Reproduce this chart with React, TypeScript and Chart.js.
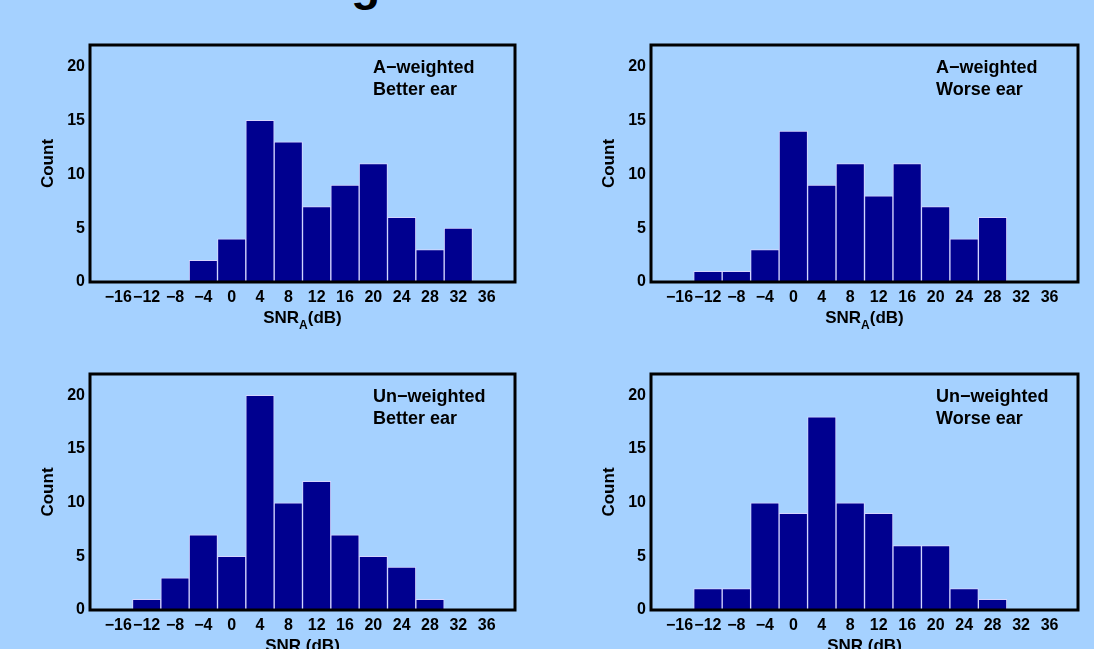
import React, { useEffect, useRef } from "react";
import { Chart, registerables } from "chart.js";

Chart.register(...registerables);

// Bin centres (dB); the outer two are empty padding bins of the axis range
const binCenters = [-20, -16, -12, -8, -4, 0, 4, 8, 12, 16, 20, 24, 28, 32, 36, 40];
const shownTicks = [-16, -12, -8, -4, 0, 4, 8, 12, 16, 20, 24, 28, 32, 36];
const yTicks = [0, 5, 10, 15, 20];

// Counts for bins centred at -16 ... 36
const aWeightedBetter = [0, 0, 0, 2, 4, 15, 13, 7, 9, 11, 6, 3, 5, 0];
const aWeightedWorse = [0, 1, 1, 3, 14, 9, 11, 8, 11, 7, 4, 6, 0, 0];
const unWeightedBetter = [0, 1, 3, 7, 5, 20, 10, 12, 7, 5, 4, 1, 0, 0];
const unWeightedWorse = [0, 2, 2, 10, 9, 18, 10, 9, 6, 6, 2, 1, 0, 0];

const FONT = '"Liberation Sans", Arial, Helvetica, sans-serif';

type PanelProps = {
  left: number;
  top: number;
  width: number;
  height: number;
  padTop: number;
  padRight: number;
  yAxisWidth: number;
  xAxisHeight: number;
  counts: number[];
  line1: string;
  line2: string;
  subA: boolean;
};

const frame = {
  id: "frame",
  afterDraw(chart: any, _args: any, opts: any) {
    const { ctx, chartArea } = chart;
    const { left, top, right, bottom } = chartArea;
    ctx.save();
    ctx.strokeStyle = "#000";
    ctx.lineWidth = 3;
    ctx.strokeRect(left, top, right - left, bottom - top);

    ctx.fillStyle = "#000";
    ctx.textBaseline = "alphabetic";
    ctx.textAlign = "left";
    ctx.font = `bold 18px ${FONT}`;
    ctx.fillText(opts.line1, right - 142, top + 28);
    ctx.fillText(opts.line2, right - 142, top + 50);

    // x title
    const cx = (left + right) / 2;
    const by = bottom + 41;
    ctx.font = `bold 17px ${FONT}`;
    if (opts.subA) {
      const w1 = ctx.measureText("SNR").width;
      const w3 = ctx.measureText("(dB)").width;
      ctx.font = `bold 12px ${FONT}`;
      const w2 = ctx.measureText("A").width;
      const total = w1 + w2 + w3;
      let x = cx - total / 2;
      ctx.font = `bold 17px ${FONT}`;
      ctx.fillText("SNR", x, by);
      x += w1;
      ctx.font = `bold 12px ${FONT}`;
      ctx.fillText("A", x, by + 6);
      x += w2;
      ctx.font = `bold 17px ${FONT}`;
      ctx.fillText("(dB)", x, by);
    } else {
      ctx.textAlign = "center";
      ctx.fillText("SNR (dB)", cx, by);
    }

    // y title
    ctx.translate(left - 42, (top + bottom) / 2);
    ctx.rotate(-Math.PI / 2);
    ctx.textAlign = "center";
    ctx.textBaseline = "middle";
    ctx.font = `bold 17px ${FONT}`;
    ctx.fillText("Count", 0, 0);
    ctx.restore();
  },
};

function Panel(p: PanelProps) {
  const ref = useRef<HTMLCanvasElement>(null);
  useEffect(() => {
    if (!ref.current) return;
    const values = [null, ...p.counts, null];
    const chart = new Chart(ref.current, {
      type: "bar",
      data: {
        labels: binCenters.map(String),
        datasets: [
          {
            data: values as any,
            backgroundColor: "#00008f",
            borderColor: "#d6d6ff",
            borderWidth: 1,
            barPercentage: 1,
            categoryPercentage: 1,
          },
        ],
      },
      options: {
        responsive: false,
        animation: false,
        layout: { padding: { top: p.padTop, right: p.padRight, left: 0, bottom: 0 } },
        plugins: {
          legend: { display: false },
          tooltip: { enabled: false },
          frame: { line1: p.line1, line2: p.line2, subA: p.subA },
        } as any,
        scales: {
          x: {
            type: "category",
            offset: false,
            grid: { display: false, drawTicks: false },
            border: { display: false },
            ticks: {
              autoSkip: false,
              maxRotation: 0,
              minRotation: 0,
              padding: 6,
              color: "#000",
              font: { size: 16, family: FONT, weight: "bold" },
              callback: (_v: any, i: number) => {
                const c = binCenters[i];
                return shownTicks.includes(c) ? String(c).replace("-", "\u2212") : "";
              },
            },
            afterFit: (s: any) => {
              s.height = p.xAxisHeight;
            },
          },
          y: {
            type: "linear",
            min: 0,
            max: 22,
            grid: { display: false, drawTicks: false },
            border: { display: false },
            ticks: {
              stepSize: 5,
              includeBounds: false,
              padding: 5,
              color: "#000",
              font: { size: 16, family: FONT, weight: "bold" },
              callback: (v: any) => (yTicks.includes(Number(v)) ? String(v) : ""),
            },
            afterFit: (s: any) => {
              s.width = p.yAxisWidth;
            },
          },
        },
      },
      plugins: [frame],
    });
    return () => chart.destroy();
  }, []);
  return (
    <canvas
      ref={ref}
      width={p.width}
      height={p.height}
      style={{ position: "absolute", left: p.left, top: p.top, width: p.width, height: p.height }}
    />
  );
}

export default function App() {
  return (
    <div
      style={{
        position: "fixed",
        left: 0,
        top: 0,
        width: 1094,
        height: 649,
        background: "#a5d1ff",
        overflow: "hidden",
        fontFamily: FONT,
      }}
    >
      <div
        style={{
          position: "absolute",
          left: 351,
          top: -40,
          fontSize: 48,
          lineHeight: "48px",
          fontWeight: "bold",
          color: "#000",
        }}
      >
        g
      </div>
      <Panel left={0} top={30} width={545} height={310} padTop={15} padRight={30} yAxisWidth={90} xAxisHeight={58}
        counts={aWeightedBetter} line1={"A\u2212weighted"} line2="Better ear" subA={true} />
      <Panel left={545} top={30} width={549} height={310} padTop={15} padRight={16} yAxisWidth={106} xAxisHeight={58}
        counts={aWeightedWorse} line1={"A\u2212weighted"} line2="Worse ear" subA={true} />
      <Panel left={0} top={340} width={545} height={309} padTop={34} padRight={30} yAxisWidth={90} xAxisHeight={39}
        counts={unWeightedBetter} line1={"Un\u2212weighted"} line2="Better ear" subA={false} />
      <Panel left={545} top={340} width={549} height={309} padTop={34} padRight={16} yAxisWidth={106} xAxisHeight={39}
        counts={unWeightedWorse} line1={"Un\u2212weighted"} line2="Worse ear" subA={false} />
    </div>
  );
}
